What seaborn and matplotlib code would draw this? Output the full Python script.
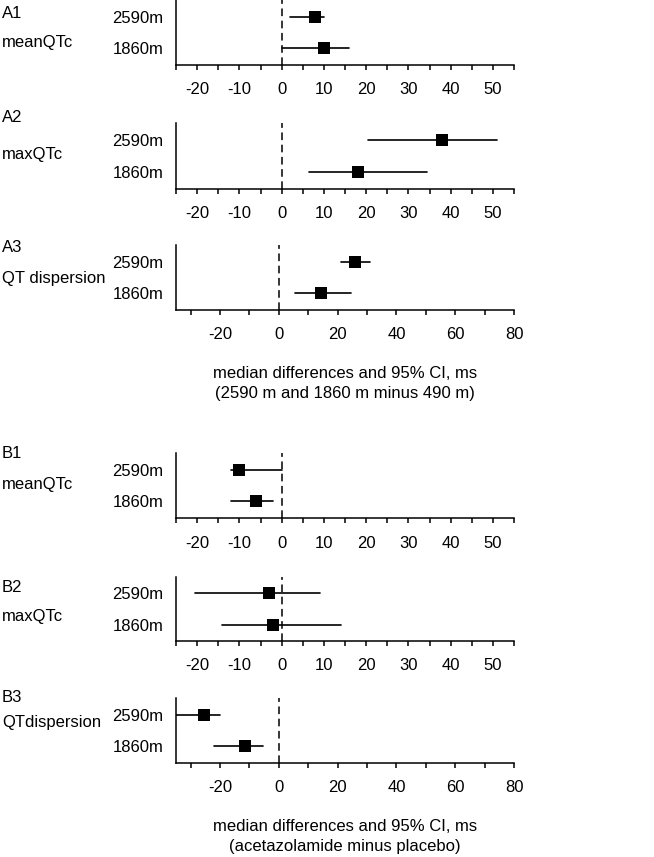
import numpy as np
import pandas as pd
import matplotlib
matplotlib.use('Agg')
from matplotlib import pyplot as plt
from matplotlib.ticker import MultipleLocator
import seaborn as sns

sns.set_style('white')
plt.rcParams['font.family'] = ['Liberation Sans', 'DejaVu Sans']
plt.rcParams['font.size'] = 12
plt.rcParams['axes.unicode_minus'] = False
plt.rcParams['text.color'] = 'black'
plt.rcParams['axes.labelcolor'] = 'black'
plt.rcParams['xtick.color'] = 'black'
plt.rcParams['ytick.color'] = 'black'

# altitudes (rows in every panel)
altitudes = ['2590m', '1860m']

# panel ids and names
panel_ids = ['A1', 'A2', 'A3', 'B1', 'B2', 'B3']
panel_names = ['meanQTc', 'maxQTc', 'QT dispersion',
               'meanQTc', 'maxQTc', 'QTdispersion']

# median differences, ms  (per panel: [2590m, 1860m])
medians = [[8, 10], [38, 18], [26, 14.5],
           [-10, -6], [-3, -2], [-25.5, -11.5]]
# 95% CI lower / upper
ci_low = [[2, 0], [20.5, 6.5], [21, 5.5],
          [-12, -12], [-20.5, -14], [-36, -22]]
ci_high = [[10, 16], [51, 34.5], [31, 24.5],
           [0, -2], [9, 14], [-20, -5.5]]

xlabel_a = 'median differences and 95% CI, ms\n(2590 m and 1860 m minus 490 m)'
xlabel_b = 'median differences and 95% CI, ms\n(acetazolamide minus placebo)'

W, H = 654, 857
fig = plt.figure(figsize=(W / 100, H / 100), dpi=100)

# axes top/bottom in pixels
ax_px = [(0, 65), (123, 189), (245, 310), (453, 518), (577, 641), (698, 763)]
id_y = [13, 118, 248, 453, 587, 698]
name_y = [43, 155, 278, 484, 617, 722]
left_px, right_px = 176, 514

for i in range(6):
    top, bot = ax_px[i]
    ax = fig.add_axes([left_px / W, 1 - bot / H,
                       (right_px - left_px) / W, (bot - top) / H])
    rows = []
    for j, alt in enumerate(altitudes):
        for v in (ci_low[i][j], medians[i][j], ci_high[i][j]):
            rows.append({'altitude': alt, 'value': v})
    df = pd.DataFrame(rows)
    ax.axvline(0, color='black', lw=1.1, ls=(0, (5, 3)), zorder=1)
    sns.pointplot(data=df, x='value', y='altitude', order=altitudes,
                  estimator='median',
                  errorbar=lambda v: (v.min(), v.max()),
                  markers='s', linestyles='none', color='black',
                  markersize=8.5, markeredgewidth=0,
                  err_kws={'linewidth': 1.2},
                  orient='h', ax=ax)
    ax.set_ylim(1.52, -0.52)
    big = i in (2, 5)
    if big:
        ax.set_xlim(-35, 80)
        ax.xaxis.set_major_locator(MultipleLocator(20))
        ax.xaxis.set_minor_locator(MultipleLocator(10))
    else:
        ax.set_xlim(-25, 55)
        ax.xaxis.set_major_locator(MultipleLocator(10))
        ax.xaxis.set_minor_locator(MultipleLocator(5))
    sns.despine(ax=ax)
    for s in ('left', 'bottom'):
        ax.spines[s].set_linewidth(1.1)
        ax.spines[s].set_color('black')
    ax.tick_params(axis='x', which='both', direction='out', length=3.6,
                   width=1.1, color='black', bottom=True, pad=9)
    ax.tick_params(axis='y', length=0, pad=9)
    ax.set_ylabel('')
    if i == 2:
        ax.set_xlabel(xlabel_a, linespacing=1.4, labelpad=17)
    elif i == 5:
        ax.set_xlabel(xlabel_b, linespacing=1.4, labelpad=17)
    else:
        ax.set_xlabel('')
    fig.text(2 / W, 1 - id_y[i] / H, panel_ids[i], ha='left', va='center')
    fig.text(2 / W, 1 - name_y[i] / H, panel_names[i], ha='left', va='center')

fig.savefig('out.png', dpi=100)
